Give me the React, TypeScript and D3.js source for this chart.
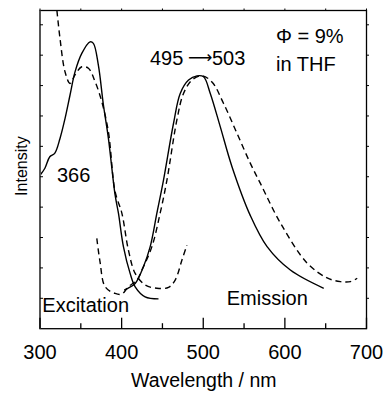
import React from "react";
import * as d3 from "d3";

const W = 383;
const H = 393;

// Wavelength (nm) and intensity (arb. units, tick = 1) for each curve
const excSolidWl = [300, 306, 312, 318, 324.5, 330.7, 336.8, 342.9, 351.2, 361.3, 365.4, 371.5, 377.7, 383.8, 392, 396.1, 402.2, 410.4, 416.6, 428.8, 445.2];
const excSolidI = [5.05, 5.28, 5.66, 5.77, 6.26, 6.92, 7.69, 8.45, 9.06, 9.44, 9.39, 8.67, 7.36, 6.26, 4.4, 3.8, 2.7, 1.82, 1.38, 1.05, 0.98];

const excDashWl = [319.5, 324.5, 330.7, 336.8, 342.9, 351.2, 359.3, 367.5, 375.7, 383.8, 392, 400.2, 408.3, 416.6, 428.8, 443.2, 457.4, 465.6, 473.9, 480];
const excDashI = [10.8, 9.55, 8.45, 8.07, 8.35, 8.62, 8.57, 8.13, 7.47, 6.48, 4.51, 3.81, 2.59, 1.82, 1.44, 1.33, 1.36, 1.6, 2.26, 2.75];

const emSolidWl = [403.1, 406.4, 416.6, 426.7, 435, 443.2, 451.3, 463.6, 471.8, 482, 492.3, 500.4, 508.6, 520.9, 535.2, 557.7, 578.2, 606.7, 647.6];
const emSolidI = [1.27, 1.31, 1.49, 2.04, 2.7, 3.8, 4.89, 6.76, 7.74, 8.18, 8.32, 8.29, 7.74, 6.64, 5.33, 3.72, 2.7, 1.93, 1.33];

const emDashWl = [369.6, 373.6, 379.8, 392, 400.2, 408.3, 418.7, 424.8, 437.1, 447.2, 455.5, 467.7, 475.8, 486.1, 498.4, 510.7, 524.9, 541.3, 557.7, 570, 594.5, 627.2, 651.8, 668.1, 680.4, 688.6];
const emDashI = [2.97, 2.19, 1.38, 1.16, 1.14, 1.38, 1.6, 1.93, 2.7, 3.8, 4.89, 6.87, 7.74, 8.18, 8.32, 8.12, 7.41, 6.43, 5.44, 4.78, 3.48, 2.16, 1.67, 1.55, 1.55, 1.66];

const xMajorTicks = [300, 400, 500, 600, 700];
const xMinorTicks = [350, 450, 550, 650];
const yTicks = [1, 2, 3, 4, 5, 6, 7, 8, 9, 10];

const FONT = "'Liberation Sans', Arial, Helvetica, sans-serif";

export default function App() {
  const left = 40;
  const right = 366.5;
  const top = 10.5;
  const bottom = 328.7;

  const x = d3.scaleLinear().domain([300, 700]).range([left, right]);
  const y = d3.scaleLinear().domain([0, 10.47]).range([bottom, top]);

  const line = d3
    .line<[number, number]>()
    .x((d) => x(d[0]))
    .y((d) => y(d[1]))
    .curve(d3.curveCatmullRom.alpha(0.5));

  const zip = (a: number[], b: number[]) => a.map((v, i) => [v, b[i]] as [number, number]);

  const series = [
    { d: zip(excSolidWl, excSolidI), dash: undefined },
    { d: zip(excDashWl, excDashI), dash: "6,4" },
    { d: zip(emSolidWl, emSolidI), dash: undefined },
    { d: zip(emDashWl, emDashI), dash: "6,4" },
  ];

  return (
    <svg
      width={W}
      height={H}
      style={{ position: "absolute", left: 0, top: 0, background: "#fff" }}
      fontFamily={FONT}
    >
      <defs>
        <clipPath id="plotclip">
          <rect x={left} y={top} width={right - left} height={bottom - top} />
        </clipPath>
      </defs>
      <rect x={0} y={0} width={W} height={H} fill="#fff" />

      <g clipPath="url(#plotclip)">
        {series.map((s, i) => (
          <path
            key={i}
            d={line(s.d) || ""}
            fill="none"
            stroke="#000"
            strokeWidth={1.4}
            strokeDasharray={s.dash}
          />
        ))}
      </g>

      {/* frame */}
      <rect x={left} y={top} width={right - left} height={bottom - top} fill="none" stroke="#000" strokeWidth={1.3} />
      <line x1={left} x2={left} y1={top} y2={bottom} stroke="#555" strokeWidth={2} />

      {/* bottom ticks */}
      {xMajorTicks.map((t) => (
        <line key={"M" + t} x1={x(t)} x2={x(t)} y1={bottom} y2={bottom - 11} stroke="#000" strokeWidth={1.3} />
      ))}
      {xMinorTicks.map((t) => (
        <line key={"m" + t} x1={x(t)} x2={x(t)} y1={bottom} y2={bottom - 5.5} stroke="#000" strokeWidth={1.3} />
      ))}
      {/* top ticks */}
      {[...xMajorTicks, ...xMinorTicks].map((t) => (
        <line key={"T" + t} x1={x(t)} x2={x(t)} y1={top} y2={top - 2} stroke="#000" strokeWidth={1} />
      ))}
      {/* y ticks */}
      {yTicks.map((t) => (
        <g key={"y" + t}>
          <line x1={left} x2={left + 3} y1={y(t)} y2={y(t)} stroke="#000" strokeWidth={1} />
          <line x1={right} x2={right + 2.5} y1={y(t)} y2={y(t)} stroke="#000" strokeWidth={1} />
        </g>
      ))}

      {/* tick labels */}
      {xMajorTicks.map((t) => (
        <text key={"l" + t} x={x(t)} y={358.5} textAnchor="middle" fontSize={20} fill="#000">
          {t}
        </text>
      ))}

      <text x={(left + right) / 2 + 0.5} y={387} textAnchor="middle" fontSize={19.5} fill="#000">
        Wavelength / nm
      </text>
      <text
        transform={`translate(26.5, ${y(5.35)}) rotate(-90)`}
        textAnchor="middle"
        fontSize={16}
        fill="#000"
      >
        Intensity
      </text>

      {/* annotations */}
      <text x={57} y={181.7} fontSize={20} fill="#000">366</text>
      <text x={150} y={65} fontSize={20} fill="#000">495</text>
      <text x={188} y={63} fontSize={17} fontFamily="'DejaVu Sans', sans-serif" fill="#000">⟶</text>
      <text x={212} y={65} fontSize={20} fill="#000">503</text>
      <text x={276} y={42.7} fontSize={20} fill="#000">Φ = 9%</text>
      <text x={276} y={71} fontSize={20} fill="#000">in THF</text>
      <text x={42.3} y={311.7} fontSize={20} fill="#000">Excitation</text>
      <text x={226.7} y={305} fontSize={20} fill="#000">Emission</text>
    </svg>
  );
}
